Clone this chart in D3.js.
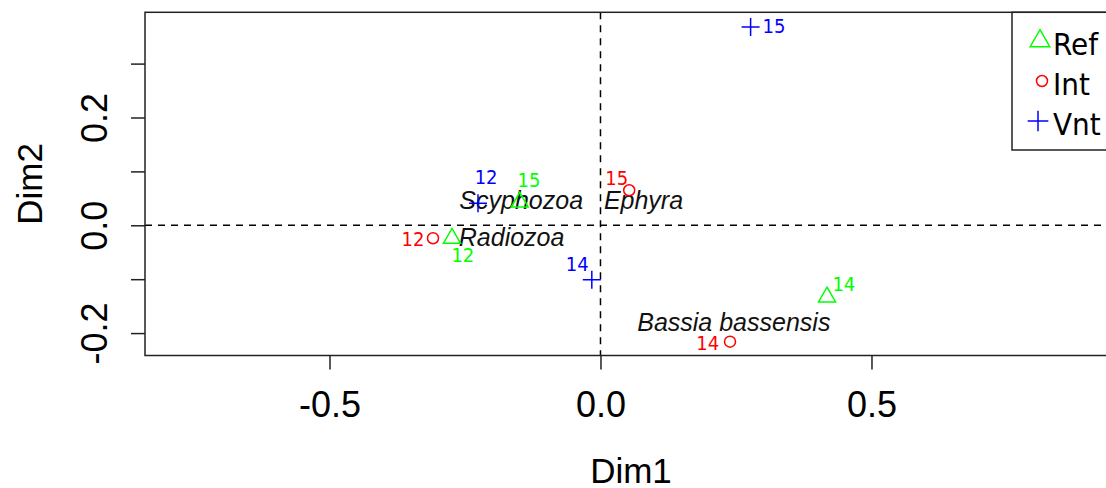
<!DOCTYPE html>
<html>
<head>
<meta charset="utf-8">
<script src="https://cdn.jsdelivr.net/npm/d3@7"></script>
<style>
  body { margin: 0; background: #fff; }
  svg { display: block; }
</style>
</head>
<body>
<div class="container"></div>
<script>
// groups (rows) of the CA, 3 groups x 3 sampling occasions
var groups = ["Ref", "Int", "Vnt"];
var groupColors = ["#00ff00", "#ff0000", "#0000ff"];

var pointGroup = ["Ref", "Ref", "Ref", "Int", "Int", "Int", "Vnt", "Vnt", "Vnt"];
var pointName  = ["12", "15", "14", "12", "15", "14", "12", "14", "15"];
var pointDim1  = [-0.274, -0.149, 0.418, -0.309, 0.053, 0.239, -0.226, -0.016, 0.277];
var pointDim2  = [-0.024, 0.043, -0.133, -0.024, 0.065, -0.216, 0.041, -0.101, 0.368];
// where the label of each point was put (in Dim units)
var labelDim1  = [-0.254, -0.132, 0.449, -0.346, 0.030, 0.198, -0.211, -0.043, 0.320];
var labelDim2  = [-0.055, 0.084, -0.109, -0.025, 0.088, -0.218, 0.090, -0.072, 0.370];

// taxa (columns)
var taxaName = ["Scyphozoa   Ephyra", "Radiozoa", "Bassia bassensis"];
var taxaDim1 = [-0.054, -0.164, 0.246];
var taxaDim2 = [0.047, -0.022, -0.179];

var dim1Ticks = [-0.5, 0.0, 0.5];
var dim2Ticks = [-0.2, -0.1, 0.0, 0.1, 0.2, 0.3];
var dim2Labelled = [-0.2, 0.0, 0.2];

var width = 1106, height = 488;
// plot box (right side runs past the window like in the original)
var boxL = 145, boxR = 1117, boxT = 12.3, boxB = 355.5;

var svg = d3.select("div.container").append("svg")
    .attr("width", width)
    .attr("height", height);

var x = d3.scaleLinear().domain([-0.8404, 0.953]).range([boxL, boxR]);
var y = d3.scaleLinear().domain([-0.2416, 0.3952]).range([boxB, boxT]);

var colorOf = d3.scaleOrdinal().domain(groups).range(groupColors);

// R style numbers, plain hyphen for minus
function fmt(d) { return d.toFixed(1); }

// axes
var xAxis = svg.append("g")
    .attr("transform", "translate(0," + boxB + ")")
    .call(d3.axisBottom(x).tickValues(dim1Ticks).tickSize(14).tickFormat(fmt));
xAxis.select(".domain").remove();
xAxis.selectAll("line").attr("stroke", "#222").attr("stroke-width", 1.5);
xAxis.selectAll("text")
    .attr("y", 61.5).attr("dy", 0)
    .attr("fill", "#000")
    .style("font-family", "'Liberation Sans', Arial, sans-serif")
    .style("font-size", "36px");

var yAxis = svg.append("g")
    .attr("transform", "translate(" + boxL + ",0)")
    .call(d3.axisLeft(y).tickValues(dim2Ticks).tickSize(14)
        .tickFormat(function(d) {
            return dim2Labelled.some(function(v) { return Math.abs(v - d) < 1e-9; }) ? fmt(d) : "";
        }));
yAxis.select(".domain").remove();
yAxis.selectAll("line").attr("stroke", "#222").attr("stroke-width", 1.5);
yAxis.selectAll("text")
    .attr("transform", "rotate(-90)")
    .attr("x", 0).attr("y", -38).attr("dy", 0)
    .attr("text-anchor", "middle")
    .attr("fill", "#000")
    .style("font-family", "'Liberation Sans', Arial, sans-serif")
    .style("font-size", "36px");

// axis titles
svg.append("text")
    .attr("x", (boxL + boxR) / 2).attr("y", 483)
    .attr("text-anchor", "middle")
    .style("font-family", "'Liberation Sans', Arial, sans-serif")
    .style("font-size", "35px")
    .text("Dim1");

svg.append("text")
    .attr("transform", "translate(42," + ((boxT + boxB) / 2) + ") rotate(-90)")
    .attr("text-anchor", "middle")
    .style("font-family", "'Liberation Sans', Arial, sans-serif")
    .style("font-size", "35px")
    .text("Dim2");

// dashed lines through the origin
svg.append("line")
    .attr("x1", boxL).attr("x2", boxR)
    .attr("y1", y(0)).attr("y2", y(0))
    .attr("stroke", "#000").attr("stroke-width", 1.5)
    .attr("stroke-dasharray", "7,6");
svg.append("line")
    .attr("x1", x(0)).attr("x2", x(0))
    .attr("y1", boxT).attr("y2", boxB)
    .attr("stroke", "#000").attr("stroke-width", 1.5)
    .attr("stroke-dasharray", "7,6");

// box
svg.append("rect")
    .attr("x", boxL).attr("y", boxT)
    .attr("width", boxR - boxL).attr("height", boxB - boxT)
    .attr("fill", "none").attr("stroke", "#222").attr("stroke-width", 1.5);

function symbolPath(g, big) {
    var s = big ? 1.15 : 1;
    if (g === "Ref") return d3.symbol().type(d3.symbolTriangle).size(125 * s * s)();
    if (g === "Int") return d3.symbol().type(d3.symbolCircle).size(Math.PI * 5.5 * 5.5)();
    var h = 9 * s;
    return "M" + (-h) + ",0H" + h + "M0," + (-h) + "V" + h;
}

var points = d3.range(pointName.length).map(function(i) {
    return {g: pointGroup[i], name: pointName[i], d1: pointDim1[i], d2: pointDim2[i],
            l1: labelDim1[i], l2: labelDim2[i]};
});

// taxa labels
svg.append("g").selectAll("text")
    .data(taxaName)
    .enter()
    .append("text")
    .attr("x", function(d, i) { return x(taxaDim1[i]); })
    .attr("y", function(d, i) { return y(taxaDim2[i]) + 9; })
    .attr("text-anchor", "middle")
    .attr("xml:space", "preserve")
    .style("white-space", "pre")
    .style("font-family", "'Liberation Sans', Arial, sans-serif")
    .style("font-style", "italic")
    .style("font-size", "25px")
    .attr("fill", "#111")
    .text(function(d) { return d; });

// group points
svg.append("g").selectAll("path")
    .data(points)
    .enter()
    .append("path")
    .attr("transform", function(d) { return "translate(" + x(d.d1) + "," + y(d.d2) + ")"; })
    .attr("d", function(d) { return symbolPath(d.g, false); })
    .attr("fill", "none")
    .attr("stroke", function(d) { return colorOf(d.g); })
    .attr("stroke-width", 1.5);

svg.append("g").selectAll("text")
    .data(points)
    .enter()
    .append("text")
    .attr("x", function(d) { return x(d.l1); })
    .attr("y", function(d) { return y(d.l2) + 7; })
    .attr("text-anchor", "middle")
    .attr("fill", function(d) { return colorOf(d.g); })
    .style("font-family", "'DejaVu Sans Condensed', 'DejaVu Sans', sans-serif")
    .style("font-size", "20px")
    .text(function(d) { return d.name; });

// legend
var legend = svg.append("g");
legend.append("rect")
    .attr("x", 1012).attr("y", boxT)
    .attr("width", 140).attr("height", 150 - boxT)
    .attr("fill", "#fff").attr("stroke", "#222").attr("stroke-width", 1.5);

var legendY = [41, 81, 121];
var legendX = [1040, 1042, 1038];
legend.selectAll("path")
    .data(groups)
    .enter()
    .append("path")
    .attr("transform", function(d, i) { return "translate(" + legendX[i] + "," + legendY[i] + ")"; })
    .attr("d", function(d) { return symbolPath(d, true); })
    .attr("fill", "none")
    .attr("stroke", function(d) { return colorOf(d); })
    .attr("stroke-width", 1.5);

legend.selectAll("text")
    .data(groups)
    .enter()
    .append("text")
    .attr("x", 1053)
    .attr("y", function(d, i) { return legendY[i] + 14; })
    .style("font-family", "'DejaVu Sans Condensed', 'DejaVu Sans', sans-serif")
    .style("font-size", "31px")
    .attr("fill", "#000")
    .text(function(d) { return d; });
</script>
</body>
</html>
